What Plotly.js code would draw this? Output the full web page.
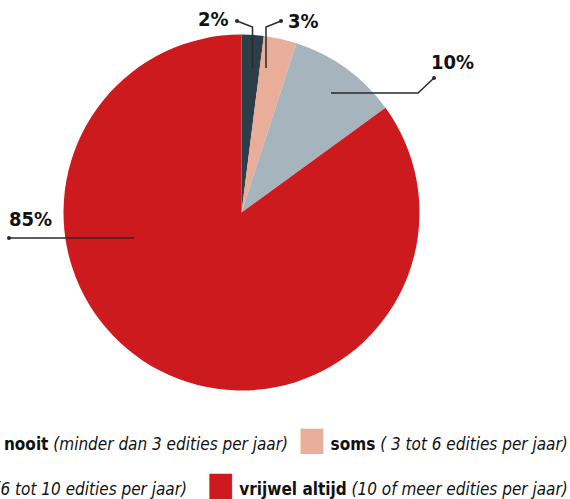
<!DOCTYPE html>
<html>
<head>
<meta charset="utf-8">
<script src="https://cdn.plot.ly/plotly-3.0.1.min.js"></script>
<style>
  html, body { margin: 0; padding: 0; background: #fff; overflow: hidden; }
  #chart { width: 570px; height: 499px; }
</style>
</head>
<body>
<div id="chart"></div>
<script>
// ---- data ----
const categories = ["vrijwel nooit", "soms", "vaak", "vrijwel altijd"];
const descriptions = ["(minder dan 3 edities per jaar)", "( 3 tot 6 edities per jaar)", "(6 tot 10 edities per jaar)", "(10 of meer edities per jaar)"];
const values = [2, 3, 10, 85];
const colors = ["#2c3e4a", "#e8ae99", "#a6b4bd", "#cc1a1e"];

// ---- layout helpers (pixel geometry of the page) ----
const W = 570, H = 499;
const FONT = "'Liberation Sans Narrow', 'DejaVu Sans Condensed', Roboto, sans-serif";
const px = x => x / W;
const py = y => 1 - y / H;

// pie placement
const cx = 241.5, cy = 212.5, R = 178;

// leader lines for the percentage labels (page pixels), one per slice
const leaders = [
  {pts: [[252.5, 68], [252.5, 27], [237, 21]], tx: 231, ty: 19, xa: "right", ya: "middle"},
  {pts: [[266, 68], [266, 27], [281, 21]], tx: 286, ty: 21, xa: "left", ya: "middle"},
  {pts: [[331, 93], [418, 93], [434, 78]], tx: 429, ty: 76, xa: "left", ya: "bottom"},
  {pts: [[134, 238], [9, 238]], tx: 7, ty: 233, xa: "left", ya: "bottom"}
];

const shapes = [];
const annotations = [];
leaders.forEach((L, i) => {
  const path = L.pts.map((p, k) => (k ? "L" : "M") + px(p[0]) + "," + py(p[1])).join(" ");
  shapes.push({type: "path", xref: "paper", yref: "paper", path: path,
               line: {color: "#2a2a2a", width: 1.5}});
  const e = L.pts[L.pts.length - 1];
  shapes.push({type: "circle", xref: "paper", yref: "paper",
               x0: px(e[0] - 2), x1: px(e[0] + 2), y0: py(e[1] + 2), y1: py(e[1] - 2),
               fillcolor: "#2a2a2a", line: {width: 0}});
  annotations.push({xref: "paper", yref: "paper", x: px(L.tx), y: py(L.ty),
                    xanchor: L.xa, yanchor: L.ya, showarrow: false,
                    text: "<b>" + values[i] + "%</b>",
                    font: {family: FONT, size: 20, color: "#111"}});
});

// legend rows (two entries per row, right aligned)
function legendItem(i) {
  return "<span style='color:" + colors[i] + ";font-size:33px'>■</span> <b>" + categories[i] +
         "</b> <i>" + descriptions[i] + "</i>";
}
const legendRows = [[0, 1], [2, 3]];
const rowY = [438, 483];
const rowGap = ["  ", "    "];
legendRows.forEach((row, r) => {
  annotations.push({xref: "paper", yref: "paper", x: px(570), y: py(rowY[r]),
                    xanchor: "right", yanchor: "middle", showarrow: false, align: "right",
                    text: row.map(legendItem).join(rowGap[r]),
                    font: {family: FONT, size: 17, color: "#111"}});
});

const trace = {
  type: "pie",
  labels: categories,
  values: values,
  sort: false,
  direction: "clockwise",
  rotation: 0,
  marker: {colors: colors, line: {width: 0}},
  textinfo: "none",
  hoverinfo: "label+percent",
  showlegend: false,
  domain: {x: [px(cx - R), px(cx + R)], y: [py(cy + R), py(cy - R)]}
};

const layout = {
  width: W, height: H,
  margin: {l: 0, r: 0, t: 0, b: 0},
  paper_bgcolor: "#fff",
  showlegend: false,
  font: {family: FONT},
  shapes: shapes,
  annotations: annotations
};

Plotly.newPlot("chart", [trace], layout, {displayModeBar: false, staticPlot: true});
</script>
</body>
</html>
